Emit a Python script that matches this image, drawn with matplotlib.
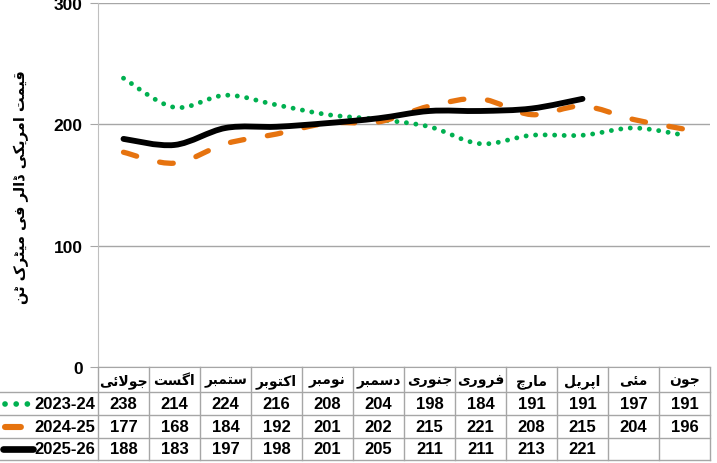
import numpy as np
import matplotlib
matplotlib.use('Agg')
import matplotlib.pyplot as plt
from matplotlib.path import Path
from matplotlib.patches import PathPatch
from matplotlib.lines import Line2D

months = ['جولائی', 'اگست', 'ستمبر', 'اکتوبر', 'نومبر', 'دسمبر',
          'جنوری', 'فروری', 'مارچ', 'اپریل', 'مئی', 'جون']
seasons = ['2023-24', '2024-25', '2025-26']
price_2324 = [238, 214, 224, 216, 208, 204, 198, 184, 191, 191, 197, 191]
price_2425 = [177, 168, 184, 192, 201, 202, 215, 221, 208, 215, 204, 196]
price_2526 = [188, 183, 197, 198, 201, 205, 211, 211, 213, 221]
y_label = 'قیمت امریکی ڈالر فی میٹرک ٹن'
y_ticks = [0, 100, 200, 300]

# contextual forms: isolated, final, initial, medial
FORMS = {
    'ا': ('\uFE8D', '\uFE8E', None, None),
    'د': ('\uFEA9', '\uFEAA', None, None),
    'ڈ': ('\uFB88', '\uFB89', None, None),
    'ر': ('\uFEAD', '\uFEAE', None, None),
    'و': ('\uFEED', '\uFEEE', None, None),
    'ب': ('\uFE8F', '\uFE90', '\uFE91', '\uFE92'),
    'پ': ('\uFB56', '\uFB57', '\uFB58', '\uFB59'),
    'ت': ('\uFE95', '\uFE96', '\uFE97', '\uFE98'),
    'ٹ': ('\uFB66', '\uFB67', '\uFB68', '\uFB69'),
    'ج': ('\uFE9D', '\uFE9E', '\uFE9F', '\uFEA0'),
    'چ': ('\uFB7A', '\uFB7B', '\uFB7C', '\uFB7D'),
    'س': ('\uFEB1', '\uFEB2', '\uFEB3', '\uFEB4'),
    'ف': ('\uFED1', '\uFED2', '\uFED3', '\uFED4'),
    'ق': ('\uFED5', '\uFED6', '\uFED7', '\uFED8'),
    'ک': ('\uFB8E', '\uFB8F', '\uFB90', '\uFB91'),
    'گ': ('\uFB92', '\uFB93', '\uFB94', '\uFB95'),
    'ل': ('\uFEDD', '\uFEDE', '\uFEDF', '\uFEE0'),
    'م': ('\uFEE1', '\uFEE2', '\uFEE3', '\uFEE4'),
    'ن': ('\uFEE5', '\uFEE6', '\uFEE7', '\uFEE8'),
    'ئ': ('\uFE89', '\uFE8A', '\uFE8B', '\uFE8C'),
    'ی': ('\uFBFC', '\uFBFD', '\uFBFE', '\uFBFF'),
}


def shape(text):
    # join letters and lay them out right to left
    out = []
    i = 0
    n = len(text)
    while i < n:
        c = text[i]
        if c not in FORMS:
            out.append(c)
            i += 1
            continue
        prev = text[i - 1] if i > 0 else ''
        prev_joins = prev in FORMS and FORMS[prev][2] is not None
        if c == 'ل' and i + 1 < n and text[i + 1] == 'ا':
            out.append('\uFEFC' if prev_joins else '\uFEFB')
            i += 2
            continue
        nxt = text[i + 1] if i + 1 < n else ''
        next_joins = FORMS[c][2] is not None and nxt in FORMS
        iso, fin, ini, med = FORMS[c]
        if prev_joins and next_joins:
            out.append(med)
        elif prev_joins:
            out.append(fin)
        elif next_joins:
            out.append(ini)
        else:
            out.append(iso)
        i += 1
    return ''.join(out)[::-1]


def smooth_path(xs, ys):
    pts = np.column_stack([xs, ys]).astype(float)
    n = len(pts)
    verts = [pts[0]]
    codes = [Path.MOVETO]
    for i in range(n - 1):
        p0 = pts[i - 1] if i > 0 else pts[i]
        p3 = pts[i + 2] if i + 2 < n else pts[i + 1]
        verts += [pts[i] + (pts[i + 1] - p0) / 6,
                  pts[i + 1] - (p3 - pts[i]) / 6,
                  pts[i + 1]]
        codes += [Path.CURVE4] * 3
    return Path(verts, codes)


plt.rcParams['font.family'] = ['Liberation Sans', 'DejaVu Sans']
plt.rcParams['font.weight'] = 'bold'

grey = '#A6A6A6'
styles = [
    dict(color='#00B050', lw=3.5, ls=(0, (0.01, 1.95)), cap='round'),
    dict(color='#E6730F', lw=3.8, ls=(0, (2.6, 4.5)), cap='round'),
    dict(color='black', lw=4.2, ls='-', cap='round'),
]
series = [price_2324, price_2425, price_2526]

fig = plt.figure(figsize=(7.17, 4.64), dpi=100)
ax = fig.add_axes([98 / 717, 96 / 464, 612 / 717, 364 / 464])
ax.set_xlim(-0.5, 11.5)
ax.set_ylim(0, 300)
ax.set_yticks(y_ticks)
ax.set_xticks([])
ax.yaxis.grid(True, color=grey, lw=1)
ax.set_axisbelow(True)
for s in ['top', 'right']:
    ax.spines[s].set_visible(False)
ax.spines['left'].set_color('#BFBFBF')
ax.spines['bottom'].set_color(grey)
ax.tick_params(axis='y', length=6, color=grey, labelsize=12.5, pad=5)

for vals, st in zip(series, styles):
    p = PathPatch(smooth_path(np.arange(len(vals)), vals), fill=False,
                  edgecolor=st['color'], lw=st['lw'], linestyle=st['ls'],
                  capstyle=st['cap'], joinstyle='round', clip_on=False)
    ax.add_patch(p)

fig.text(21 / 717, 1 - 187 / 464, shape(y_label), rotation=90,
         ha='center', va='center', fontsize=10.5, family='DejaVu Sans')

# data table under the plot
tab = fig.add_axes([98 / 717, 2 / 464, 612 / 717, 94 / 464])
tab.set_xlim(-0.5, 11.5)
tab.set_ylim(94, 0)
tab.axis('off')
left = -0.5 - 98 / 51
row_lines = [25, 48, 70.5, 93]
row_mid = [12.5, 36.5, 59.5, 82]
for y in row_lines:
    tab.plot([left, 11.5], [y, y], color=grey, lw=1, clip_on=False)
for k in range(13):
    tab.plot([k - 0.5, k - 0.5], [0, row_lines[-1]], color=grey, lw=1, clip_on=False)

for i, m in enumerate(months):
    tab.text(i, row_mid[0] + 1, shape(m), ha='center', va='center',
             fontsize=10, family='DejaVu Sans')

for r, (name, vals, st) in enumerate(zip(seasons, series, styles)):
    y = row_mid[r + 1]
    for i, v in enumerate(vals):
        tab.text(i, y, str(v), ha='center', va='center', fontsize=12)
    tab.text(-0.56, y, name, ha='right', va='center', fontsize=12)
    x0, x1 = left + 5 / 51, left + 28 / 51
    if r == 2:
        x0, x1 = left + 3 / 51, left + 33 / 51
    tab.add_line(Line2D([x0, x1], [y, y], color=st['color'], lw=st['lw'] + 0.6,
                        ls=st['ls'], dash_capstyle='round',
                        solid_capstyle='round', clip_on=False))

fig.savefig('out.png', dpi=100)
